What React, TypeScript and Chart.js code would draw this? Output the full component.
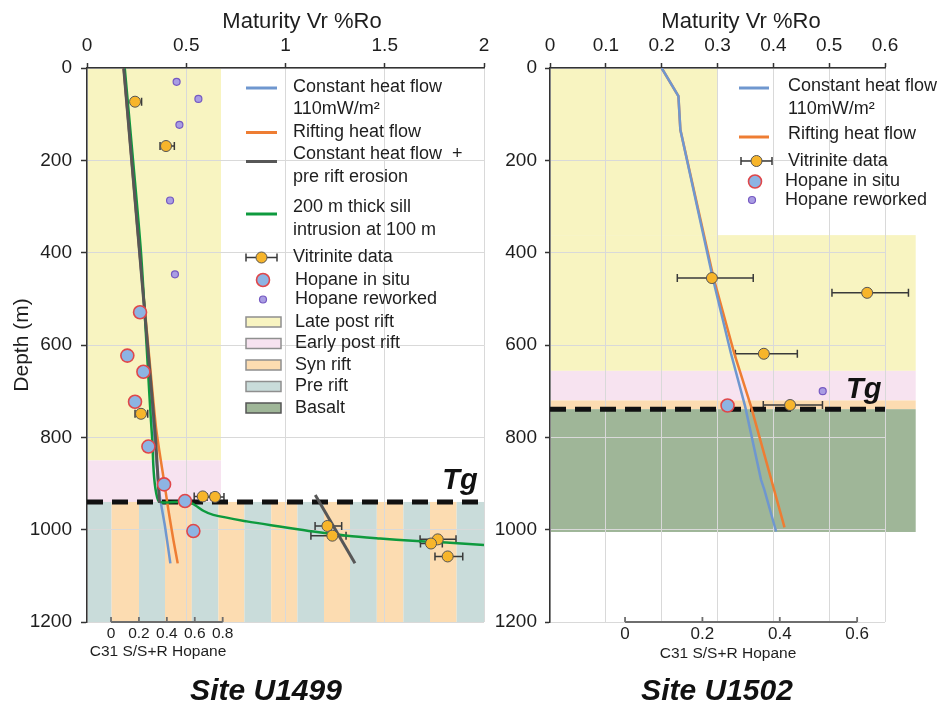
import React, { useEffect, useRef } from 'react';
import { Chart, registerables } from 'chart.js';

Chart.register(...registerables);

const FONT = "'Liberation Sans', Arial, Helvetica, sans-serif";

// ---------------- shared ticks ----------------
const depthTicks = [0, 200, 400, 600, 800, 1000, 1200];
const u1499RoTicks = [0, 0.5, 1, 1.5, 2];
const u1499HopaneTicks = [0, 0.2, 0.4, 0.6, 0.8];
const u1502RoTicks = [0, 0.1, 0.2, 0.3, 0.4, 0.5, 0.6];
const u1502HopaneTicks = [0, 0.2, 0.4, 0.6];

// ---------------- Site U1499 ----------------
const u1499ConstRo = [0.185, 0.225, 0.265, 0.305, 0.34, 0.366, 0.393, 0.42];
const u1499ConstDepth = [0, 200, 400, 600, 800, 925, 993, 1073];
const u1499RiftRo = [0.185, 0.225, 0.265, 0.308, 0.348, 0.39, 0.41, 0.435, 0.457];
const u1499RiftDepth = [0, 200, 400, 600, 780, 900, 957, 1022, 1073];
const u1499ErosionRo = [0.185, 0.225, 0.265, 0.305, 0.345, 0.365];
const u1499ErosionDepth = [0, 200, 400, 600, 800, 942];
const u1499ErosionDeepRo = [1.15, 1.35];
const u1499ErosionDeepDepth = [925, 1073];
const u1499SillRo = [0.19, 0.232, 0.272, 0.3, 0.328, 0.358, 0.45, 0.52, 0.545, 0.586, 0.636, 0.805, 0.97, 1.14, 1.31, 1.476, 1.64, 1.81, 2.0];
const u1499SillDepth = [0, 200, 400, 600, 800, 936, 940, 941, 947, 959, 968, 982, 993, 1004, 1013, 1019, 1024, 1028, 1033];

const u1499VitRo = [0.242, 0.398, 0.272, 0.583, 0.645, 1.211, 1.236, 1.767, 1.733, 1.817];
const u1499VitDepth = [73, 169, 749, 928, 929, 992, 1013, 1021, 1030, 1058];
const u1499VitRoMin = [0.228, 0.368, 0.242, 0.54, 0.605, 1.149, 1.128, 1.678, 1.68, 1.753];
const u1499VitRoMax = [0.275, 0.44, 0.306, 0.625, 0.69, 1.283, 1.305, 1.859, 1.79, 1.893];

const u1499HopInSitu = [0.208, 0.117, 0.232, 0.172, 0.268, 0.38, 0.53, 0.59];
const u1499HopInSituDepth = [529, 623, 658, 723, 820, 902, 938, 1003];
const u1499HopReworked = [0.47, 0.626, 0.49, 0.423, 0.458];
const u1499HopReworkedDepth = [30, 67, 123, 287, 447];

const u1499TgDepth = 940;
const u1499LatePostRift = { ro: [0, 0.675], depth: [0, 850] };
const u1499EarlyPostRift = { ro: [0, 0.675], depth: [850, 940] };
const u1499StripeEdges = [0, 0.124, 0.262, 0.393, 0.528, 0.662, 0.793, 0.928, 1.06, 1.194, 1.325, 1.46, 1.594, 1.728, 1.862, 2.0];
const u1499StripeDepth = [940, 1200];

// ---------------- Site U1502 ----------------
const u1502ConstRo = [0.2, 0.23, 0.2335, 0.2915, 0.324, 0.3495, 0.378, 0.384, 0.405];
const u1502ConstDepth = [0, 61, 134, 455, 618, 733, 892, 914, 1004];
const u1502RiftRo = [0.2, 0.23, 0.2335, 0.293, 0.33, 0.36, 0.42];
const u1502RiftDepth = [0, 61, 134, 455, 618, 733, 995];

const u1502VitRo = [0.29, 0.568, 0.383, 0.43];
const u1502VitDepth = [455, 487, 619, 730];
const u1502VitRoMin = [0.228, 0.505, 0.332, 0.382];
const u1502VitRoMax = [0.364, 0.642, 0.443, 0.488];

const u1502HopInSitu = [0.265];
const u1502HopInSituDepth = [731];
const u1502HopReworked = [0.511];
const u1502HopReworkedDepth = [700];

const u1502TgDepth = 739;
const u1502LatePostRiftUpper = { ro: [0, 0.3], depth: [0, 362] };
const u1502LatePostRiftLower = { ro: [0, 0.655], depth: [362, 656] };
const u1502EarlyPostRift = { ro: [0, 0.655], depth: [656, 720] };
const u1502SynRift = { ro: [0, 0.655], depth: [720, 739] };
const u1502Basalt = { ro: [0, 0.655], depth: [739, 1005] };

// ---------------- styles ----------------
const C = {
  blue: '#6f97cf',
  orange: '#ee7d33',
  grey: '#575757',
  green: '#0e9a3e',
  vitFill: '#f7b52b',
  vitEdge: '#555555',
  hopFill: '#8db4e3',
  hopEdge: '#e0474a',
  rewFill: '#a99de3',
  rewEdge: '#7559c2',
  late: '#f8f4c1',
  early: '#f7e3f0',
  syn: '#fcdcb1',
  pre: '#c9dcda',
  basalt: '#9fb698',
  grid: '#d9d9d9',
  axis: '#333333',
  text: '#1e1e1e',
  err: '#3a3a3a',
};

type Region = { ro: number[]; depth: number[]; color: string };

const pts = (xs: number[], ys: number[]) => xs.map((x, i) => ({ x, y: ys[i] }));

function lineSet(label: string, xs: number[], ys: number[], color: string, width: number, order: number, tension = 0) {
  return {
    label, data: pts(xs, ys), showLine: true, borderColor: color, backgroundColor: color,
    borderWidth: width, pointRadius: 0, pointHoverRadius: 0, fill: false, tension, order,
    xAxisID: 'x', yAxisID: 'y',
  };
}

function markerSet(label: string, xs: number[], ys: number[], axis: string, r: number, fill: string, edge: string, edgeW: number, order: number, extra: any = {}) {
  return {
    label, data: pts(xs, ys), showLine: false, pointRadius: r, pointHoverRadius: r,
    pointBackgroundColor: fill, pointBorderColor: edge, pointBorderWidth: edgeW,
    backgroundColor: fill, borderColor: edge, order, xAxisID: axis, yAxisID: 'y', ...extra,
  };
}

function tgSet(roMax: number, depth: number) {
  return {
    label: 'Tg', data: pts([0, roMax], [depth, depth]), showLine: true, borderColor: '#111111',
    borderWidth: 5, borderDash: [16, 9], pointRadius: 0, fill: false, order: 20,
    xAxisID: 'x', yAxisID: 'y',
  };
}

function buildScales(o: any) {
  return {
    x: {
      type: 'linear', axis: 'x', position: 'top', min: 0, max: o.roMax,
      afterBuildTicks: (s: any) => { s.ticks = o.roTicks.map((v: number) => ({ value: v })); },
      afterFit: (s: any) => { s.height = 68; },
      ticks: { callback: (v: any) => String(v), font: { family: FONT, size: 19 }, color: C.text, padding: 6, maxRotation: 0, autoSkip: false },
      grid: { color: C.grid, lineWidth: 1, tickColor: C.axis, tickLength: 5, tickWidth: 1.5 },
      border: { color: C.axis, width: 1.5 },
    },
    y: {
      type: 'linear', axis: 'y', position: 'left', reverse: true, min: 0, max: 1200,
      afterBuildTicks: (s: any) => { s.ticks = depthTicks.map((v) => ({ value: v })); },
      afterFit: (s: any) => { s.width = o.yWidth; },
      ticks: { callback: (v: any) => String(v), font: { family: FONT, size: 19 }, color: C.text, padding: o.yPad, autoSkip: false },
      grid: { color: C.grid, lineWidth: 1, tickColor: C.axis, tickLength: o.yTick, tickWidth: 1.5 },
      border: { color: C.axis, width: 1.5 },
      title: { display: o.yTitle, text: 'Depth (m)', font: { family: FONT, size: 21 }, color: C.text, padding: { top: 10, bottom: 0 } },
    },
    xh: {
      type: 'linear', axis: 'x', position: 'bottom', min: o.hopMin, max: o.hopMax,
      afterBuildTicks: (s: any) => { s.ticks = o.hopTicks.map((v: number) => ({ value: v })); },
      afterFit: (s: any) => { s.height = 86; },
      ticks: { callback: (v: any) => String(v), font: { family: FONT, size: o.hopFont }, color: C.text, padding: 2, maxRotation: 0, autoSkip: false },
      grid: { display: false, drawTicks: false },
      border: { display: false },
    },
  };
}

type LegendEntry = { kind: string; color?: string; edge?: string; sx0: number; sx1: number; sy: number; tx: number; lines: [string, number][] };

function circle(ctx: CanvasRenderingContext2D, x: number, y: number, r: number, fill: string, edge: string, w: number) {
  ctx.beginPath();
  ctx.arc(x, y, r, 0, Math.PI * 2);
  ctx.fillStyle = fill;
  ctx.fill();
  ctx.lineWidth = w;
  ctx.strokeStyle = edge;
  ctx.stroke();
}

function errBar(ctx: CanvasRenderingContext2D, a: number, b: number, y: number) {
  ctx.beginPath();
  ctx.moveTo(a, y); ctx.lineTo(b, y);
  ctx.moveTo(a, y - 4); ctx.lineTo(a, y + 4);
  ctx.moveTo(b, y - 4); ctx.lineTo(b, y + 4);
  ctx.lineWidth = 1.5;
  ctx.strokeStyle = C.err;
  ctx.stroke();
}

function panelPlugin(spec: {
  regions: Region[];
  hopTicks: number[];
  legend: LegendEntry[];
  tg: { ro: number; depth: number };
  maturityTitleX: number;
  hopTitleX: number; hopTitleY: number;
  site: string; siteX: number; siteY: number;
}) {
  return {
    id: 'panelDecor',
    beforeDraw(chart: any) {
      const ctx = chart.ctx;
      const xs = chart.scales.x, ys = chart.scales.y;
      ctx.save();
      spec.regions.forEach((r) => {
        const x0 = xs.getPixelForValue(r.ro[0]), x1 = xs.getPixelForValue(r.ro[1]);
        const y0 = ys.getPixelForValue(r.depth[0]), y1 = ys.getPixelForValue(r.depth[1]);
        ctx.fillStyle = r.color;
        ctx.fillRect(Math.min(x0, x1), Math.min(y0, y1), Math.abs(x1 - x0), Math.abs(y1 - y0));
      });
      ctx.restore();
    },
    beforeDatasetsDraw(chart: any) {
      const ctx = chart.ctx;
      ctx.save();
      chart.data.datasets.forEach((ds: any, i: number) => {
        if (!ds.errMin) return;
        const meta = chart.getDatasetMeta(i);
        const sc = chart.scales[ds.xAxisID || 'x'];
        meta.data.forEach((el: any, j: number) => {
          errBar(ctx, sc.getPixelForValue(ds.errMin[j]), sc.getPixelForValue(ds.errMax[j]), el.y);
        });
      });
      ctx.restore();
    },
    afterDraw(chart: any) {
      const ctx = chart.ctx;
      const xs = chart.scales.x, ys = chart.scales.y, xh = chart.scales.xh;
      const area = chart.chartArea;
      ctx.save();
      // hopane axis line
      const h0 = xh.getPixelForValue(spec.hopTicks[0]);
      const h1 = xh.getPixelForValue(spec.hopTicks[spec.hopTicks.length - 1]);
      const by = area.bottom;
      ctx.strokeStyle = '#6e6e6e';
      ctx.lineWidth = 1.8;
      ctx.beginPath();
      ctx.moveTo(h0, by); ctx.lineTo(h1, by);
      spec.hopTicks.forEach((v) => {
        const p = xh.getPixelForValue(v);
        ctx.moveTo(p, by); ctx.lineTo(p, by - 5);
      });
      ctx.stroke();

      ctx.fillStyle = C.text;
      ctx.textBaseline = 'middle';
      ctx.textAlign = 'center';
      ctx.font = `22px ${FONT}`;
      ctx.fillText('Maturity Vr %Ro', spec.maturityTitleX, 22);
      ctx.font = `15.5px ${FONT}`;
      ctx.fillText('C31 S/S+R Hopane', spec.hopTitleX, spec.hopTitleY);
      ctx.font = `italic bold 30px ${FONT}`;
      ctx.fillStyle = '#111';
      ctx.fillText(spec.site, spec.siteX, spec.siteY);

      // Tg label
      ctx.textAlign = 'left';
      ctx.textBaseline = 'alphabetic';
      ctx.font = `italic bold 29px ${FONT}`;
      ctx.fillText('Tg', xs.getPixelForValue(spec.tg.ro), ys.getPixelForValue(spec.tg.depth));

      // legend
      ctx.textBaseline = 'middle';
      spec.legend.forEach((e) => {
        if (e.kind === 'line') {
          ctx.strokeStyle = e.color!;
          ctx.lineWidth = 3;
          ctx.beginPath(); ctx.moveTo(e.sx0, e.sy); ctx.lineTo(e.sx1, e.sy); ctx.stroke();
        } else if (e.kind === 'vit') {
          errBar(ctx, e.sx0, e.sx1, e.sy);
          circle(ctx, (e.sx0 + e.sx1) / 2, e.sy, 5.5, C.vitFill, C.vitEdge, 1);
        } else if (e.kind === 'hopIn') {
          circle(ctx, e.sx0, e.sy, 6.5, C.hopFill, C.hopEdge, 1.6);
        } else if (e.kind === 'hopRe') {
          circle(ctx, e.sx0, e.sy, 3.5, C.rewFill, C.rewEdge, 1.2);
        } else if (e.kind === 'box') {
          ctx.fillStyle = e.color!;
          ctx.fillRect(e.sx0, e.sy - 5, e.sx1 - e.sx0, 10);
          ctx.strokeStyle = e.edge || '#8f8f8f';
          ctx.lineWidth = 1.5;
          ctx.strokeRect(e.sx0, e.sy - 5, e.sx1 - e.sx0, 10);
        }
        ctx.fillStyle = C.text;
        ctx.font = `18px ${FONT}`;
        e.lines.forEach(([t, y]) => ctx.fillText(t, e.tx, y));
      });
      ctx.restore();
    },
  };
}

function leftConfig() {
  const regions: Region[] = [
    { ...u1499LatePostRift, color: C.late },
    { ...u1499EarlyPostRift, color: C.early },
  ];
  for (let i = 0; i < u1499StripeEdges.length - 1; i++) {
    regions.push({ ro: [u1499StripeEdges[i], u1499StripeEdges[i + 1]], depth: u1499StripeDepth, color: i % 2 === 0 ? C.pre : C.syn });
  }
  const legend: LegendEntry[] = [
    { kind: 'line', color: C.blue, sx0: 246, sx1: 277, sy: 88, tx: 293, lines: [['Constant heat flow', 87], ['110mW/m\u00B2', 109]] },
    { kind: 'line', color: C.orange, sx0: 246, sx1: 277, sy: 132.5, tx: 293, lines: [['Rifting heat flow', 132.5]] },
    { kind: 'line', color: C.grey, sx0: 246, sx1: 277, sy: 161.5, tx: 293, lines: [['Constant heat flow  +', 154], ['pre rift erosion', 177]] },
    { kind: 'line', color: C.green, sx0: 246, sx1: 277, sy: 214, tx: 293, lines: [['200 m thick sill', 207], ['intrusion at 100 m', 230]] },
    { kind: 'vit', sx0: 246, sx1: 277, sy: 257.5, tx: 293, lines: [['Vitrinite data', 257]] },
    { kind: 'hopIn', sx0: 263, sx1: 263, sy: 280, tx: 295, lines: [['Hopane in situ', 280]] },
    { kind: 'hopRe', sx0: 263, sx1: 263, sy: 299.5, tx: 295, lines: [['Hopane reworked', 299.5]] },
    { kind: 'box', color: C.late, sx0: 246, sx1: 281, sy: 322, tx: 295, lines: [['Late post rift', 322]] },
    { kind: 'box', color: C.early, sx0: 246, sx1: 281, sy: 343.5, tx: 295, lines: [['Early post rift', 343.5]] },
    { kind: 'box', color: C.syn, sx0: 246, sx1: 281, sy: 365, tx: 295, lines: [['Syn rift', 365]] },
    { kind: 'box', color: C.pre, sx0: 246, sx1: 281, sy: 386.5, tx: 295, lines: [['Pre rift', 386.5]] },
    { kind: 'box', color: C.basalt, edge: '#555', sx0: 246, sx1: 281, sy: 408, tx: 295, lines: [['Basalt', 408]] },
  ];
  return {
    type: 'scatter',
    data: {
      datasets: [
        tgSet(2, u1499TgDepth),
        lineSet('Constant heat flow 110mW/m²', u1499ConstRo, u1499ConstDepth, C.blue, 2.5, 9, 0.2),
        lineSet('Rifting heat flow', u1499RiftRo, u1499RiftDepth, C.orange, 2.5, 8, 0.2),
        lineSet('200 m thick sill intrusion at 100 m', u1499SillRo, u1499SillDepth, C.green, 2.5, 7, 0.3),
        lineSet('Constant heat flow + pre rift erosion', u1499ErosionRo, u1499ErosionDepth, C.grey, 3, 6, 0.1),
        lineSet('Constant heat flow + pre rift erosion (deep)', u1499ErosionDeepRo, u1499ErosionDeepDepth, C.grey, 3, 6),
        markerSet('Hopane in situ', u1499HopInSitu, u1499HopInSituDepth, 'xh', 6.5, C.hopFill, C.hopEdge, 1.6, 3),
        markerSet('Vitrinite data', u1499VitRo, u1499VitDepth, 'x', 5.5, C.vitFill, C.vitEdge, 1, 2, { errMin: u1499VitRoMin, errMax: u1499VitRoMax }),
        markerSet('Hopane reworked', u1499HopReworked, u1499HopReworkedDepth, 'xh', 3.5, C.rewFill, C.rewEdge, 1.2, 1),
      ],
    },
    options: {
      responsive: false, animation: false, events: [],
      layout: { padding: { left: 0, right: 16, top: 0, bottom: 0 } },
      plugins: { legend: { display: false }, tooltip: { enabled: false } },
      scales: buildScales({ roMax: 2, roTicks: u1499RoTicks, hopMin: -0.172, hopMax: 2.672, hopTicks: u1499HopaneTicks, hopFont: 15.5, yWidth: 87, yPad: 9, yTick: 6, yTitle: true }),
    },
    plugins: [panelPlugin({
      regions, hopTicks: u1499HopaneTicks, legend,
      tg: { ro: 1.79, depth: 912 },
      maturityTitleX: 302, hopTitleX: 158, hopTitleY: 652,
      site: 'Site U1499', siteX: 266, siteY: 692,
    })],
  };
}

function rightConfig() {
  const regions: Region[] = [
    { ...u1502LatePostRiftUpper, color: C.late },
    { ...u1502LatePostRiftLower, color: C.late },
    { ...u1502EarlyPostRift, color: C.early },
    { ...u1502SynRift, color: C.syn },
    { ...u1502Basalt, color: C.basalt },
  ];
  const legend: LegendEntry[] = [
    { kind: 'line', color: C.blue, sx0: 259, sx1: 289, sy: 88, tx: 308, lines: [['Constant heat flow', 86], ['110mW/m\u00B2', 109]] },
    { kind: 'line', color: C.orange, sx0: 259, sx1: 289, sy: 137, tx: 308, lines: [['Rifting heat flow', 134]] },
    { kind: 'vit', sx0: 261, sx1: 292, sy: 161, tx: 308, lines: [['Vitrinite data', 161]] },
    { kind: 'hopIn', sx0: 275, sx1: 275, sy: 181.5, tx: 305, lines: [['Hopane in situ', 181]] },
    { kind: 'hopRe', sx0: 272, sx1: 272, sy: 200, tx: 305, lines: [['Hopane reworked', 200]] },
  ];
  return {
    type: 'scatter',
    data: {
      datasets: [
        tgSet(0.6, u1502TgDepth),
        lineSet('Rifting heat flow', u1502RiftRo, u1502RiftDepth, C.orange, 2.5, 9),
        lineSet('Constant heat flow 110mW/m²', u1502ConstRo, u1502ConstDepth, C.blue, 2.5, 8),
        markerSet('Hopane in situ', u1502HopInSitu, u1502HopInSituDepth, 'xh', 6.5, C.hopFill, C.hopEdge, 1.6, 3),
        markerSet('Vitrinite data', u1502VitRo, u1502VitDepth, 'x', 5.5, C.vitFill, C.vitEdge, 1, 2, { errMin: u1502VitRoMin, errMax: u1502VitRoMax }),
        markerSet('Hopane reworked', u1502HopReworked, u1502HopReworkedDepth, 'xh', 3.5, C.rewFill, C.rewEdge, 1.2, 1),
      ],
    },
    options: {
      responsive: false, animation: false, events: [],
      layout: { padding: { left: 0, right: 58, top: 0, bottom: 0 } },
      plugins: { legend: { display: false }, tooltip: { enabled: false } },
      scales: buildScales({ roMax: 0.6, roTicks: u1502RoTicks, hopMin: -0.194, hopMax: 0.672, hopTicks: u1502HopaneTicks, hopFont: 17, yWidth: 70, yPad: 8, yTick: 5, yTitle: false }),
    },
    plugins: [panelPlugin({
      regions, hopTicks: u1502HopaneTicks, legend,
      tg: { ro: 0.53, depth: 715 },
      maturityTitleX: 261, hopTitleX: 248, hopTitleY: 654,
      site: 'Site U1502', siteX: 237, siteY: 692,
    })],
  };
}

function Panel({ make, left, width }: { make: () => any; left: number; width: number }) {
  const ref = useRef<HTMLCanvasElement | null>(null);
  useEffect(() => {
    if (!ref.current) return;
    const chart = new Chart(ref.current, make());
    return () => chart.destroy();
  }, [make]);
  return (
    <canvas
      ref={ref}
      width={width}
      height={708}
      style={{ position: 'absolute', left, top: 0, width, height: 708 }}
    />
  );
}

export default function App() {
  return (
    <div style={{ position: 'absolute', left: 0, top: 0, width: 943, height: 708, background: '#ffffff', overflow: 'hidden' }}>
      <Panel make={leftConfig} left={0} width={500} />
      <Panel make={rightConfig} left={480} width={463} />
    </div>
  );
}
